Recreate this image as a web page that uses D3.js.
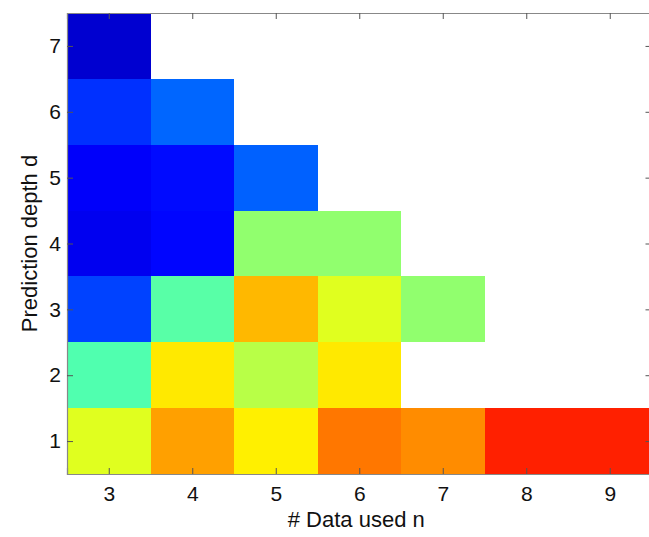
<!DOCTYPE html>
<html>
<head>
<meta charset="utf-8">
<script src="https://cdn.jsdelivr.net/npm/d3@7"></script>
<style>
  html, body { margin: 0; padding: 0; background: #fff; }
  svg { display: block; font-family: "Liberation Sans", Arial, Helvetica, sans-serif; }
</style>
</head>
<body>
<svg id="chart" width="649" height="537"></svg>
<script>
// ---- data ----
const nValues = [3, 4, 5, 6, 7, 8, 9];          // # Data used n (x)
const dValues = [1, 2, 3, 4, 5, 6, 7];          // Prediction depth d (y)
// normalized colour values (jet colormap, 0..1); null = no cell
const depth1 = [0.595, 0.718, 0.640, 0.758, 0.738, 0.844, 0.844];
const depth2 = [0.453, 0.647, 0.555, 0.647, null, null, null];
const depth3 = [0.190, 0.461, 0.695, 0.595, 0.517, null, null];
const depth4 = [0.110, 0.130, 0.517, 0.517, null, null, null];
const depth5 = [0.120, 0.135, 0.220, null, null, null, null];
const depth6 = [0.172, 0.225, null, null, null, null, null];
const depth7 = [0.079, null, null, null, null, null, null];
const rows = [depth1, depth2, depth3, depth4, depth5, depth6, depth7];
const xTicks = [3, 4, 5, 6, 7, 8, 9];
const yTicks = [1, 2, 3, 4, 5, 6, 7];

(function () {
// ---- layout ----
const svg = d3.select("#chart");
const mLeft = 67, mRight = 651.5, mTop = 13, mBottom = 474;

const x = d3.scaleLinear().domain([2.5, 9.5]).range([mLeft, mRight]);
const y = d3.scaleLinear().domain([0.5, 7.5]).range([mBottom, mTop]);

// jet colormap
const jet = d3.scaleLinear()
  .domain([0, 0.125, 0.375, 0.625, 0.875, 1])
  .range(["#000080", "#0000ff", "#00ffff", "#ffff00", "#ff0000", "#800000"])
  .clamp(true);

const cells = [];
rows.forEach((row, i) => row.forEach((v, j) => {
  if (v !== null) cells.push({ n: nValues[j], d: dValues[i], v });
}));

svg.append("g").selectAll("rect").data(cells).join("rect")
  .attr("x", c => x(c.n - 0.5))
  .attr("y", c => y(c.d + 0.5))
  .attr("width", c => x(c.n + 0.5) - x(c.n - 0.5))
  .attr("height", c => y(c.d - 0.5) - y(c.d + 0.5))
  .attr("fill", c => jet(c.v))
  .attr("shape-rendering", "crispEdges");

// axes (MATLAB style: inward ticks on all four sides)
const tickLen = 6;
const axisColor = "#555";
const axB = svg.append("g").attr("transform", `translate(0,${mBottom})`)
  .call(d3.axisBottom(x).tickValues(xTicks).tickSize(-tickLen).tickPadding(12).tickFormat(d3.format("d")));
const axT = svg.append("g").attr("transform", `translate(0,${mTop})`)
  .call(d3.axisTop(x).tickValues(xTicks).tickSize(-tickLen).tickFormat(""));
const axL = svg.append("g").attr("transform", `translate(${mLeft},0)`)
  .call(d3.axisLeft(y).tickValues(yTicks).tickSize(-tickLen).tickPadding(6).tickFormat(d3.format("d")));
const axR = svg.append("g").attr("transform", `translate(${mRight},0)`)
  .call(d3.axisRight(y).tickValues(yTicks).tickSize(-tickLen).tickFormat(""));

[axB, axT, axL, axR].forEach(a => {
  a.select(".domain").attr("stroke", "#888").attr("stroke-width", 1.2);
  a.selectAll(".tick line").attr("stroke", axisColor).attr("stroke-width", 1);
  a.selectAll("text").attr("fill", "#111").style("font-size", "21px")
    .style("font-family", "\"Liberation Sans\", Arial, sans-serif");
});

// axis titles
svg.append("text")
  .attr("x", (mLeft + mRight) / 2 - 3)
  .attr("y", 527)
  .attr("text-anchor", "middle")
  .style("font-size", "22px")
  .attr("fill", "#111")
  .text("# Data used n");

svg.append("text")
  .attr("transform", `translate(37,${(mTop + mBottom) / 2}) rotate(-90)`)
  .attr("text-anchor", "middle")
  .style("font-size", "22px")
  .attr("fill", "#111")
  .text("Prediction depth d");
})();
</script>
</body>
</html>
